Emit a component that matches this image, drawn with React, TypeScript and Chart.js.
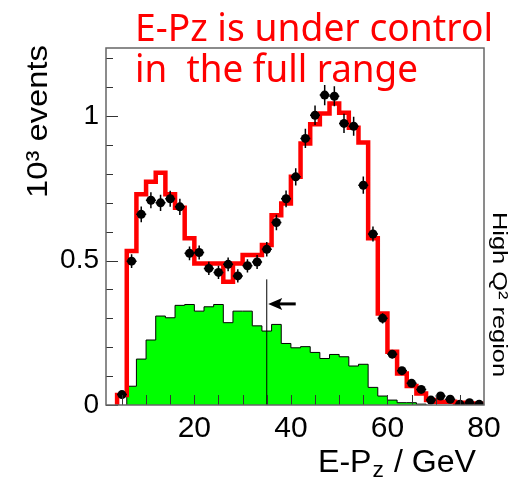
import React, { useEffect, useRef } from 'react';
import { Chart, registerables } from 'chart.js';

Chart.register(...registerables);

const FONT = "'Liberation Sans', Arial, Helvetica, sans-serif";
const TITLE_FONT = "'Noto Sans', 'DejaVu Sans', sans-serif";

const BIN_WIDTH = 2;

// MC (red) histogram, bins of width 2 starting at E-Pz = 4 GeV
const mcFirstEdge = 4;
const mcValues = [
  0.035, 0.533, 0.73, 0.773, 0.804, 0.73, 0.683, 0.577, 0.49, 0.49,
  0.49, 0.427, 0.49, 0.519, 0.519, 0.554, 0.657, 0.698, 0.79, 0.905,
  0.972, 1.009, 1.044, 1.012, 0.96, 0.909, 0.577, 0.317, 0.184, 0.109,
  0.066, 0.04, 0.017, 0.011, 0.011, 0.008, 0.005, 0.004,
];

// Background (green) histogram, bins of width 2 starting at 6 GeV
const bkgFirstEdge = 6;
const bkgValues = [
  0.065, 0.159, 0.225, 0.308, 0.302, 0.345, 0.348, 0.325, 0.34, 0.348,
  0.285, 0.325, 0.325, 0.274, 0.256, 0.279, 0.213, 0.198, 0.202, 0.182,
  0.161, 0.175, 0.167, 0.135, 0.141, 0.061, 0.031, 0.017, 0.008, 0.008,
  0.003,
];

// Data points
const dataX = [
  5, 7, 9, 11, 13, 15, 17, 19, 21, 23, 25, 27, 29, 31, 33, 35, 37, 39, 41,
  43, 45, 47, 49, 51, 53, 55, 57, 59, 61, 63, 65, 67, 69, 71, 73, 75, 77, 79,
];
const dataY = [
  0.036, 0.498, 0.66, 0.709, 0.7, 0.714, 0.686, 0.525, 0.528, 0.473,
  0.459, 0.487, 0.447, 0.482, 0.495, 0.539, 0.632, 0.714, 0.79, 0.923,
  1.003, 1.073, 1.069, 0.975, 0.965, 0.761, 0.592, 0.3, 0.176, 0.119,
  0.075, 0.054, 0.017, 0.031, 0.02, 0.003, 0.008, 0.003,
];
const dataErr = [
  0.008, 0.024, 0.027, 0.028, 0.028, 0.028, 0.028, 0.024, 0.024, 0.023,
  0.023, 0.024, 0.023, 0.023, 0.024, 0.025, 0.027, 0.029, 0.03, 0.033,
  0.034, 0.035, 0.035, 0.033, 0.033, 0.03, 0.026, 0.018, 0.014, 0.012,
  0.01, 0.009, 0.005, 0.007, 0.006, 0.003, 0.004, 0.003,
];

const xTickValues = [20, 40, 60, 80];
const yTickValues = [0, 0.5, 1];
const xMinorTicks = [5, 10, 15, 20, 25, 30, 35, 40, 45, 50, 55, 60, 65, 70, 75];
const yMinorTicks = [0.1, 0.2, 0.3, 0.4, 0.6, 0.7, 0.8, 0.9, 1.1, 1.2];

const cutValue = 35;
const cutLineTop = 0.435;
const arrowY = 0.35;
const arrowTail = 41;
const arrowHead = 35.3;

const titleLine1 = 'E-Pz is under control';
const titleLine2 = 'in  the full range';
const yTitle = '10³ events';
const sideLabel = 'High Q² region';

function histPoints(firstEdge: number, values: number[]) {
  const pts: { x: number; y: number }[] = [{ x: firstEdge, y: 0 }];
  values.forEach((v, i) => pts.push({ x: firstEdge + i * BIN_WIDTH, y: v }));
  const end = firstEdge + values.length * BIN_WIDTH;
  pts.push({ x: end, y: values[values.length - 1] });
  pts.push({ x: end, y: 0 });
  return pts;
}

function fitText(
  ctx: CanvasRenderingContext2D,
  text: string,
  x: number,
  y: number,
  targetW: number,
  font: string,
  color: string,
  rotate = 0
) {
  ctx.save();
  ctx.font = font;
  ctx.fillStyle = color;
  ctx.textAlign = 'left';
  ctx.textBaseline = 'alphabetic';
  const w = ctx.measureText(text).width;
  ctx.translate(x, y);
  if (rotate) ctx.rotate(rotate);
  ctx.scale(targetW / w, 1);
  ctx.fillText(text, 0, 0);
  ctx.restore();
}

const overlayPlugin = {
  id: 'overlay',
  afterDatasetsDraw(chart: any) {
    const { ctx, scales } = chart;
    const x = scales.x;
    const y = scales.y;
    ctx.save();
    // error bars
    ctx.strokeStyle = '#000';
    ctx.lineWidth = 1.5;
    dataX.forEach((xv, i) => {
      const px = x.getPixelForValue(xv);
      const py = y.getPixelForValue(dataY[i]);
      const top = y.getPixelForValue(dataY[i] + dataErr[i]);
      const bot = y.getPixelForValue(Math.max(0, dataY[i] - dataErr[i]));
      ctx.beginPath();
      ctx.moveTo(px, top);
      ctx.lineTo(px, bot);
      ctx.moveTo(px - 5, py);
      ctx.lineTo(px + 5, py);
      ctx.stroke();
    });
    // cut line
    ctx.lineWidth = 1;
    ctx.beginPath();
    ctx.moveTo(x.getPixelForValue(cutValue), y.getPixelForValue(0));
    ctx.lineTo(x.getPixelForValue(cutValue), y.getPixelForValue(cutLineTop));
    ctx.stroke();
    // arrow
    const ay = y.getPixelForValue(arrowY);
    const hx = x.getPixelForValue(arrowHead);
    const tx = x.getPixelForValue(arrowTail);
    ctx.lineWidth = 3;
    ctx.beginPath();
    ctx.moveTo(tx, ay);
    ctx.lineTo(hx + 8, ay);
    ctx.stroke();
    ctx.fillStyle = '#000';
    ctx.beginPath();
    ctx.moveTo(hx, ay);
    ctx.lineTo(hx + 14, ay - 6);
    ctx.lineTo(hx + 11, ay);
    ctx.lineTo(hx + 14, ay + 6);
    ctx.closePath();
    ctx.fill();
    ctx.restore();
  },
  afterDraw(chart: any) {
    const { ctx, chartArea: a, scales } = chart;
    const x = scales.x;
    const y = scales.y;
    ctx.save();
    // ticks inside the frame
    ctx.strokeStyle = '#333';
    ctx.lineWidth = 1;
    ctx.beginPath();
    yTickValues.forEach((v) => {
      const py = Math.round(y.getPixelForValue(v)) + 0.5;
      ctx.moveTo(a.left, py);
      ctx.lineTo(a.left + 12, py);
    });
    yMinorTicks.forEach((v) => {
      const py = Math.round(y.getPixelForValue(v)) + 0.5;
      ctx.moveTo(a.left, py);
      ctx.lineTo(a.left + 7, py);
    });
    xMinorTicks.forEach((v) => {
      const px = Math.round(x.getPixelForValue(v)) + 0.5;
      ctx.moveTo(px, a.bottom);
      ctx.lineTo(px, a.bottom - 10);
    });
    ctx.stroke();
    // frame
    ctx.strokeStyle = '#666';
    ctx.lineWidth = 1.5;
    ctx.strokeRect(a.left, a.top, a.right - a.left, a.bottom - a.top);
    ctx.restore();

    // red headline
    fitText(ctx, titleLine1, 135, 40.5, 358, `38px ${TITLE_FONT}`, '#ff0000');
    fitText(ctx, titleLine2, 135, 82, 283, `38px ${TITLE_FONT}`, '#ff0000');

    // y axis title
    fitText(ctx, yTitle, 47, 198, 153, `30px ${FONT}`, '#000', -Math.PI / 2);

    // side label
    fitText(ctx, sideLabel, 493, 212, 165, `21px ${FONT}`, '#000', Math.PI / 2);

    // x axis title with subscript, fitted to span 318..476
    ctx.save();
    ctx.fillStyle = '#000';
    ctx.textBaseline = 'alphabetic';
    ctx.textAlign = 'left';
    const big = `31px ${FONT}`;
    const small = `22px ${FONT}`;
    const p1 = 'E-P';
    const p2 = 'z';
    const p3 = ' / GeV';
    ctx.font = big;
    const w1 = ctx.measureText(p1).width;
    const w3 = ctx.measureText(p3).width;
    ctx.font = small;
    const w2 = ctx.measureText(p2).width + 2;
    const total = w1 + w2 + w3;
    const startX = 318;
    const targetW = 476 - startX;
    const base = 471.5;
    ctx.translate(startX, base);
    ctx.scale(targetW / total, 1);
    let cx = 0;
    ctx.font = big;
    ctx.fillText(p1, cx, 0);
    cx += w1;
    ctx.font = small;
    ctx.fillText(p2, cx + 1, 5);
    cx += w2;
    ctx.font = big;
    ctx.fillText(p3, cx, 0);
    ctx.restore();
  },
};

export default function App() {
  const canvasRef = useRef<HTMLCanvasElement | null>(null);

  useEffect(() => {
    const canvas = canvasRef.current;
    if (!canvas) return;
    const chart = new Chart(canvas, {
      type: 'line',
      data: {
        datasets: [
          {
            label: 'data',
            data: dataX.map((xv, i) => ({ x: xv, y: dataY[i] })),
            showLine: false,
            pointRadius: 4.5,
            pointBackgroundColor: '#000',
            pointBorderColor: '#000',
            pointBorderWidth: 0,
            order: 0,
          },
          {
            label: 'MC',
            data: histPoints(mcFirstEdge, mcValues),
            stepped: 'before',
            borderColor: '#ff0000',
            borderWidth: 4.5,
            borderJoinStyle: 'miter',
            borderCapStyle: 'butt',
            pointRadius: 0,
            fill: false,
            order: 1,
          },
          {
            label: 'background',
            data: histPoints(bkgFirstEdge, bkgValues),
            stepped: 'before',
            borderColor: '#000',
            borderWidth: 1,
            backgroundColor: '#00ff00',
            pointRadius: 0,
            fill: 'origin',
            order: 2,
          },
        ] as any,
      },
      options: {
        animation: false,
        responsive: false,
        maintainAspectRatio: false,
        events: [],
        layout: { padding: { left: 0, top: 48, right: 37, bottom: 0 } },
        plugins: {
          legend: { display: false },
          tooltip: { enabled: false },
          title: { display: false },
        },
        scales: {
          x: {
            type: 'linear',
            min: 1.7,
            max: 80,
            grid: { display: false, drawTicks: false },
            border: { display: false },
            ticks: {
              color: '#000',
              font: { family: FONT, size: 30 },
              padding: 6,
              autoSkip: false,
              maxRotation: 0,
              callback: (v: any) => String(v),
            },
            afterBuildTicks: (s: any) => {
              s.ticks = xTickValues.map((v) => ({ value: v }));
            },
            afterFit: (s: any) => {
              s.height = 72;
            },
          },
          y: {
            type: 'linear',
            min: 0,
            max: 1.236,
            grid: { display: false, drawTicks: false },
            border: { display: false },
            ticks: {
              color: '#000',
              font: { family: FONT, size: 28 },
              padding: 7,
              autoSkip: false,
              callback: (v: any) => String(v),
            },
            afterBuildTicks: (s: any) => {
              s.ticks = yTickValues.map((v) => ({ value: v }));
            },
            afterFit: (s: any) => {
              s.width = 106;
            },
          },
        },
      } as any,
      plugins: [overlayPlugin],
    });
    return () => chart.destroy();
  }, []);

  return (
    <div style={{ position: 'fixed', left: 0, top: 0, width: 521, height: 477, background: '#fff' }}>
      <canvas ref={canvasRef} width={521} height={477} style={{ display: 'block', width: 521, height: 477 }} />
    </div>
  );
}
